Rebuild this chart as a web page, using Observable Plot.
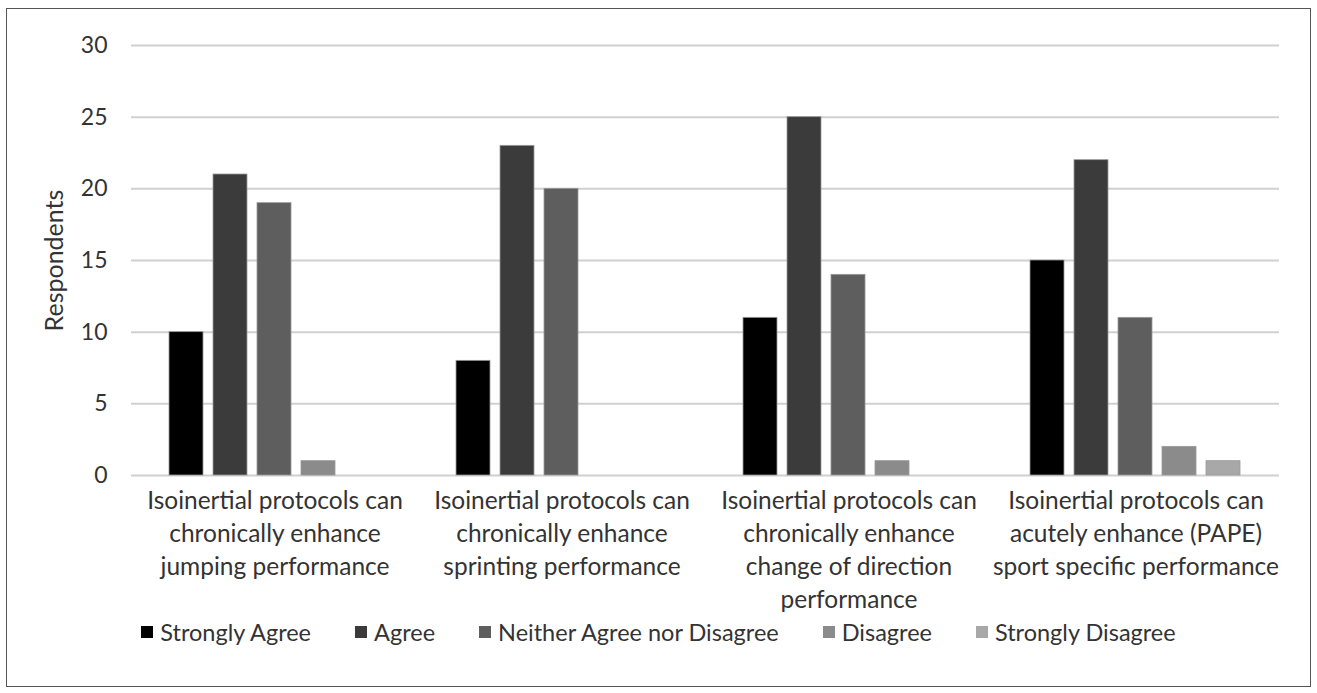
<!DOCTYPE html>
<html>
<head>
<meta charset="utf-8">
<script src="https://cdn.jsdelivr.net/npm/d3@7"></script>
<script src="https://cdn.jsdelivr.net/npm/@observablehq/plot@0.6"></script>
<style>
  html, body { margin: 0; padding: 0; background: #fff; }
  #frame {
    position: absolute; left: 6px; top: 8px; width: 1303px; height: 677px;
    border: 1.5px solid #555; background: #fff; overflow: hidden;
    font-family: Lato, "Noto Sans", sans-serif; color: #333;
  }
  #chart { position: absolute; left: 0; top: 0; }
  #legend {
    position: absolute; left: 0; right: 0; top: 609px;
    display: flex; justify-content: center; gap: 44px; font-size: 23.5px; color: #333;
  }
  #legend .item { display: flex; align-items: center; gap: 7px; }
  #legend .sw { width: 12px; height: 12px; display: inline-block; }
</style>
</head>
<body>
<div id="frame"><div id="chart"></div><div id="legend"></div></div>
<script>
const categories = [
  "Isoinertial protocols can\nchronically enhance\njumping performance",
  "Isoinertial protocols can\nchronically enhance\nsprinting performance",
  "Isoinertial protocols can\nchronically enhance\nchange of direction\nperformance",
  "Isoinertial protocols can\nacutely enhance (PAPE)\nsport specific performance"
];
const series = ["Strongly Agree", "Agree", "Neither Agree nor Disagree", "Disagree", "Strongly Disagree"];
const stronglyAgree = [10, 8, 11, 15];
const agree = [21, 23, 25, 22];
const neither = [19, 20, 14, 11];
const disagree = [1, 0, 1, 2];
const stronglyDisagree = [0, 0, 0, 1];
const seriesColors = ["#000000", "#3b3b3b", "#5e5e5e", "#8b8b8b", "#a8a8a8"];
const yTicks = [0, 5, 10, 15, 20, 25, 30];

const valuesBySeries = [stronglyAgree, agree, neither, disagree, stronglyDisagree];
const table = [];
categories.forEach((c, i) => series.forEach((s, j) => table.push({category: c, series: s, value: valuesBySeries[j][i]})));

const chart = Plot.plot({
  width: 1303, height: 605,
  marginLeft: 124, marginRight: 31, marginTop: 36, marginBottom: 139,
  style: {fontFamily: "Lato, 'Noto Sans', sans-serif", fontSize: "23px", color: "#333", background: "transparent", overflow: "visible"},
  fx: {domain: categories, padding: 0, label: null, axis: null},
  x: {domain: series, axis: null, paddingInner: 0.222, paddingOuter: 0.806},
  y: {domain: [0, 30], axis: null},
  color: {domain: series, range: seriesColors},
  marks: [
    Plot.ruleY(yTicks, {stroke: "#d0d0d0", strokeWidth: 2}),
    Plot.barY(table, {fx: "category", x: "series", y: "value", fill: "series", stroke: "#9a9a9a", strokeWidth: 0.8, filter: d => d.value > 0}),
    Plot.axisY({ticks: yTicks, tickSize: 0, tickPadding: 24, label: null, fontSize: 23}),
    Plot.axisY({ticks: [], tickSize: 0, label: "Respondents", labelAnchor: "center", labelArrow: "none", labelOffset: 86, fontSize: 25}),
    Plot.axisFx({anchor: "bottom", tickSize: 0, tickPadding: 10, lineHeight: 1.35, fontSize: 24.5, label: null})
  ]
});
document.getElementById("chart").appendChild(chart);

const legend = document.getElementById("legend");
series.forEach((s, j) => {
  const it = document.createElement("div");
  it.className = "item";
  it.innerHTML = `<span class="sw" style="background:${seriesColors[j]}"></span><span>${s}</span>`;
  legend.appendChild(it);
});
</script>
</body>
</html>
